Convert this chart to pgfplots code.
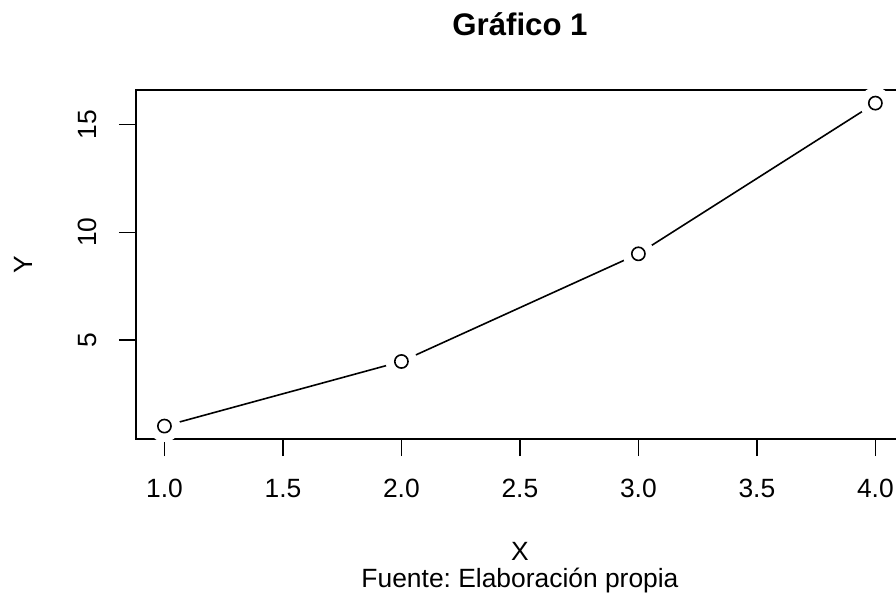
\documentclass[border=0pt]{standalone}
\usepackage{fontspec}
\setmainfont{Liberation Sans}
\usepackage{pgfplots}
\pgfplotsset{compat=1.18}
\frenchspacing

\begin{document}
\fontsize{13.2}{16}\selectfont
\begin{tikzpicture}
% page = reference frame (1px = 0.5pt), the right edge of the box is cut off as in the reference
\clip (-68pt,-80pt) rectangle (380pt,219.5pt);
\begin{axis}[
    at={(0,0)}, anchor=south west,
    scale only axis,
    width=383.9pt, height=174.4pt,
    xmin=0.88, xmax=4.12,
    ymin=0.4, ymax=16.6,
    axis on top,
    axis line style={line width=0.8pt},
    every tick/.style={black, line width=0.8pt},
    tick align=outside,
    major tick length=8.5pt,
    xtick pos=left, ytick pos=left,
    xtick={1,1.5,...,4},
    ytick={5,10,15},
    minor tick num=0,
    /pgf/number format/assume math mode=true,
    xticklabel style={/pgf/number format/fixed, /pgf/number format/fixed zerofill,
        /pgf/number format/precision=1, font=\fontsize{13.2}{16}\selectfont,
        anchor=base, yshift=-20.5pt},
    yticklabel style={rotate=90, anchor=south, font=\fontsize{13.2}{16}\selectfont},
    yticklabel shift=6.3pt,
]
% line, gaps round the points (type="b"), open circles
\addplot[black, line width=0.8pt, mark=none] coordinates {(1,1) (2,4) (3,9) (4,16)};
\addplot[white, only marks, mark=*, mark size=7.7pt]
    coordinates {(1,1) (2,4) (3,9) (4,16)};
\addplot[black, only marks, mark=o, mark size=3.3pt, mark options={line width=0.8pt}]
    coordinates {(1,1) (2,4) (3,9) (4,16)};
\end{axis}
\node[anchor=base, font=\fontsize{15.6}{19}\selectfont\bfseries] at (192pt,201.5pt) {Gráfico 1};
\node[anchor=base, inner sep=0pt] at (192pt,-61pt) {X};
\node[anchor=base, inner sep=0pt] at (192pt,-74.5pt) {Fuente: Elaboración propia};
\node[anchor=base, rotate=90] at (-51.5pt,87.2pt) {Y};
\end{tikzpicture}
\end{document}
